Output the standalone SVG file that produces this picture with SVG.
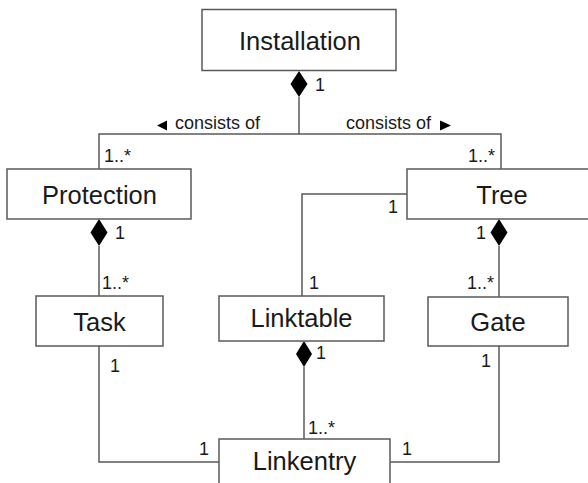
<svg xmlns="http://www.w3.org/2000/svg" width="588" height="483" viewBox="0 0 588 483">
  <style>
    .box { fill: #ffffff; stroke: #5a5a5a; stroke-width: 1.5; }
    .name { font-family: "Liberation Sans", Arial, sans-serif; font-size: 25.5px; fill: #1a1a1a; text-anchor: middle; }
    .lbl { font-family: "Liberation Sans", Arial, sans-serif; font-size: 18px; fill: #1a1a1a; }
    .wire { fill: none; stroke: #5a5a5a; stroke-width: 1.5; }
    .dia { fill: #000000; stroke: none; }
  </style>
  <rect width="588" height="483" fill="#ffffff"/>

  <g id="connectors">
    <!-- Installation composition to Protection and Tree -->
    <path class="wire" d="M299 97 V134 M99 169 V134 H501 V169"/>
    <polygon class="dia" points="299,71 307.5,84 299,97 290.5,84"/>
    <polygon class="dia" points="157,125.5 167,120.5 167,130.5"/>
    <polygon class="dia" points="451,125.5 440,120.5 440,130.5"/>
    <!-- Protection to Task -->
    <path class="wire" d="M99 246 V296"/>
    <polygon class="dia" points="99,219 107.5,232.5 99,246 90.5,232.5"/>
    <!-- Tree to Linktable -->
    <path class="wire" d="M407 194 H302 V296"/>
    <!-- Tree to Gate -->
    <path class="wire" d="M499 246 V297"/>
    <polygon class="dia" points="499,219 507.5,232.5 499,246 490.5,232.5"/>
    <!-- Linktable to Linkentry -->
    <path class="wire" d="M304 367 V439"/>
    <polygon class="dia" points="304,341 312,354 304,367 296,354"/>
    <!-- Task and Gate to Linkentry -->
    <path class="wire" d="M99 346 V462 H219"/>
    <path class="wire" d="M499 346 V462 H390"/>

    <text class="lbl" x="315" y="91">1</text>
    <text class="lbl" x="175" y="129">consists of</text>
    <text class="lbl" x="346" y="129">consists of</text>
    <text class="lbl" x="104" y="162">1..*</text>
    <text class="lbl" x="468" y="162">1..*</text>
    <text class="lbl" x="115" y="239">1</text>
    <text class="lbl" x="102" y="289">1..*</text>
    <text class="lbl" x="388" y="213">1</text>
    <text class="lbl" x="309" y="289">1</text>
    <text class="lbl" x="476" y="239">1</text>
    <text class="lbl" x="467" y="289">1..*</text>
    <text class="lbl" x="110" y="372">1</text>
    <text class="lbl" x="481" y="367">1</text>
    <text class="lbl" x="316" y="359">1</text>
    <text class="lbl" x="308" y="434">1..*</text>
    <text class="lbl" x="199" y="455">1</text>
    <text class="lbl" x="402" y="455">1</text>
  </g>

  <g id="installation">
    <rect class="box" x="202" y="9.5" width="194" height="61"/>
    <text class="name" x="300" y="50">Installation</text>
  </g>
  <g id="protection">
    <rect class="box" x="7" y="169" width="184" height="50"/>
    <text class="name" x="99.5" y="204">Protection</text>
  </g>
  <g id="tree">
    <rect class="box" x="407" y="169" width="190" height="50"/>
    <text class="name" x="502" y="204">Tree</text>
  </g>
  <g id="task">
    <rect class="box" x="36" y="296" width="127" height="50"/>
    <text class="name" x="99.5" y="331">Task</text>
  </g>
  <g id="linktable">
    <rect class="box" x="219" y="296" width="165" height="45"/>
    <text class="name" x="301.5" y="327">Linktable</text>
  </g>
  <g id="gate">
    <rect class="box" x="428" y="297" width="140" height="49"/>
    <text class="name" x="498" y="331">Gate</text>
  </g>
  <g id="linkentry">
    <rect class="box" x="219" y="439" width="171" height="60"/>
    <text class="name" x="304.5" y="470">Linkentry</text>
  </g>
</svg>
